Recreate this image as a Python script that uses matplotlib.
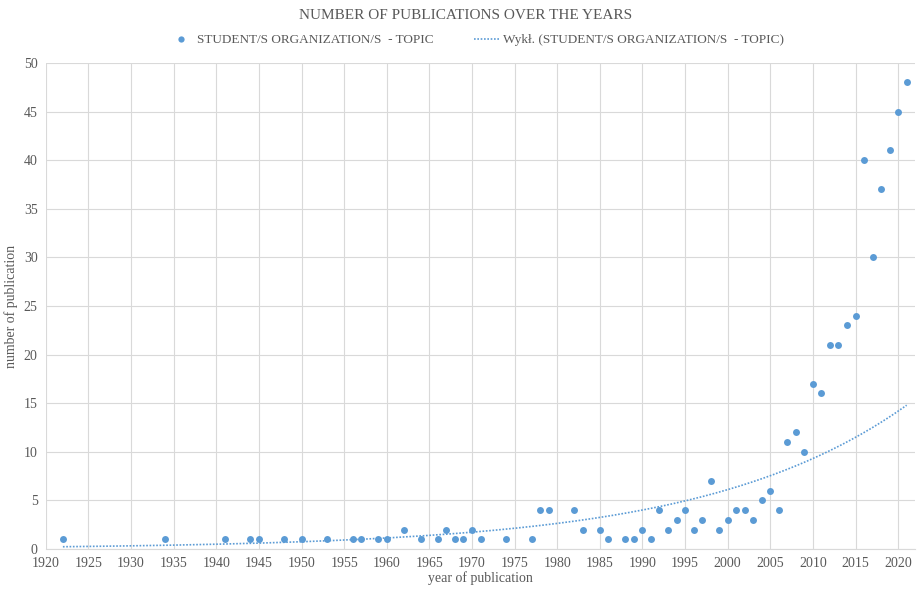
import numpy as np
import matplotlib
matplotlib.use("Agg")
import matplotlib.pyplot as plt

years = [1922, 1934, 1941, 1944, 1945, 1948, 1950, 1953, 1956, 1957, 1959, 1960,
         1962, 1964, 1966, 1967, 1968, 1969, 1970, 1971, 1974, 1977, 1978, 1979,
         1982, 1983, 1985, 1986, 1988, 1989, 1990, 1991, 1992, 1993, 1994, 1995,
         1996, 1997, 1998, 1999, 2000, 2001, 2002, 2003, 2004, 2005, 2006, 2007,
         2008, 2009, 2010, 2011, 2012, 2013, 2014, 2015, 2016, 2017, 2018, 2019,
         2020, 2021]
counts = [1, 1, 1, 1, 1, 1, 1, 1, 1, 1, 1, 1,
          2, 1, 1, 2, 1, 1, 2, 1, 1, 1, 4, 4,
          4, 2, 2, 1, 1, 1, 2, 1, 4, 2, 3, 4,
          2, 3, 7, 2, 3, 4, 4, 3, 5, 6, 4, 11,
          12, 10, 17, 16, 21, 21, 23, 24, 40, 30, 37, 41,
          45, 48]
x_ticks = list(range(1920, 2021, 5))
y_ticks = list(range(0, 51, 5))

series_label = "STUDENT/S ORGANIZATION/S  - TOPIC"
trend_label = "Wykł. (STUDENT/S ORGANIZATION/S  - TOPIC)"

plt.rcParams['font.family'] = ['Liberation Serif', 'DejaVu Serif']
txt = '#595959'
blue = '#5B9BD5'

fig = plt.figure(figsize=(9.17, 5.89), dpi=100)
ax = fig.add_axes([0.050, 0.068, 0.948, 0.825])

x = np.array(years, dtype=float)
y = np.array(counts, dtype=float)
b, a = np.polyfit(x, np.log(y), 1)
xt = np.linspace(x.min(), x.max(), 300)
yt = np.exp(a + b * xt)

ax.plot(xt, yt, linestyle=(0, (1, 1)), color=blue, linewidth=1.2, label=trend_label, zorder=2)
ax.plot(x, y, 'o', color=blue, markersize=5, markeredgewidth=0, label=series_label, zorder=3)

ax.set_xlim(1920, 2022)
ax.set_ylim(0, 50)
ax.set_xticks(x_ticks)
ax.set_yticks(y_ticks)
ax.grid(True, color='#d9d9d9', linewidth=0.8)
ax.set_axisbelow(True)
for s in ['top', 'right', 'left']:
    ax.spines[s].set_visible(False)
ax.spines['bottom'].set_color('#d9d9d9')
ax.tick_params(length=0, labelsize=10, colors=txt)
ax.tick_params(axis='x', pad=6)
ax.tick_params(axis='y', pad=6)
ax.set_xlabel('year of publication', fontsize=10, color=txt, labelpad=1)
ax.set_ylabel('number of publication', fontsize=10, color=txt, labelpad=4)

fig.suptitle('NUMBER OF PUBLICATIONS OVER THE YEARS', fontsize=11, color=txt, x=0.508, y=0.985)
h, l = ax.get_legend_handles_labels()
fig.legend([h[1], h[0]], [l[1], l[0]], loc='center', bbox_to_anchor=(0.519, 0.932), ncol=2,
           frameon=False, fontsize=9.5, labelcolor=txt, columnspacing=3.0, handlelength=1.9,
           handletextpad=0.3, markerscale=0.9)

fig.savefig('out.png', dpi=100)
